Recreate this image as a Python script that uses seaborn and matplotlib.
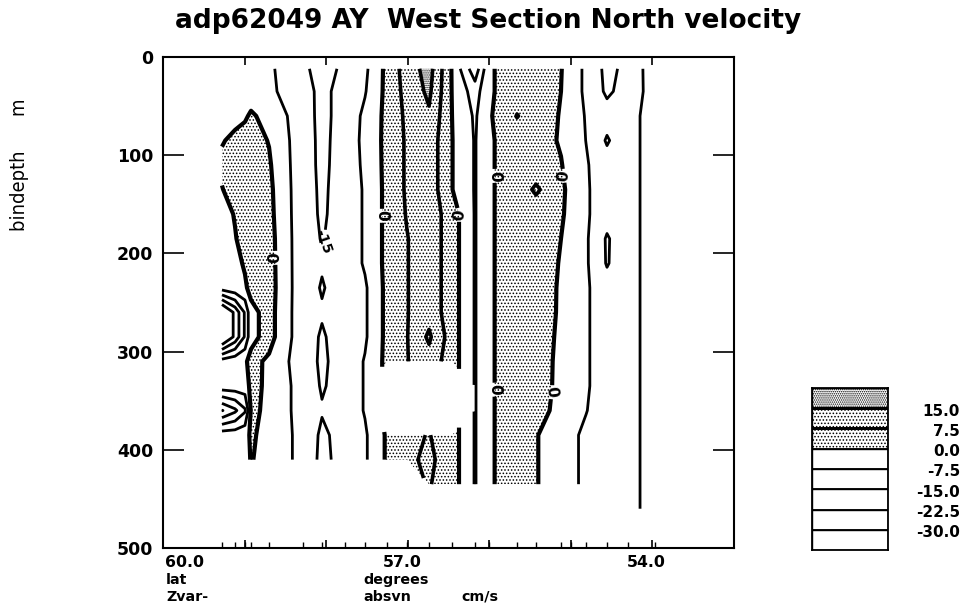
import numpy as np
import matplotlib
matplotlib.use("Agg")
import matplotlib.pyplot as plt
from matplotlib import font_manager
from matplotlib.font_manager import FontProperties
import seaborn as sns

nan = np.nan

# Along-section distance of each ADCP profile (km)
station_km = [72.3, 88.3, 100.5, 107.9, 130.0, 171.6, 194.9, 223.1, 247.6, 274.6,
              299.1, 326.1, 354.3, 382.5, 399.7, 434.0, 457.3, 487.9, 500.2, 518.6,
              544.3, 570.1, 603.2]

# Depth of each bin (m)
bin_depth = [12, 35, 60, 85, 110, 135, 160, 185, 210, 235, 260, 285, 310, 335,
             360, 385, 410, 435, 460]

# North velocity absvn (cm/s): one row per depth bin, one column per profile
absvn_rows = [
    [-4, -4, -4, -4, -6.5, -12.4, -20, -12.3, -9, 2, 11, 18, -0.5, -20, -1, 4, 4, 0.3, -3.5, -9, -17, -13, -3],
    [-4, -4, -3.5, -3, -6, -12.4, -16.8, -12.3, -8, 2, 10, 16.5, -0.3, -11, -1, 4, 4, 0, -3.5, -9, -16.3, -12, -4],
    [-3, -2, -0.8, 0.8, -2, -12.2, -16.8, -12.3, -6, 2, 9, 14, 0, -8.5, -1, 7.8, 4, -0.5, -3.5, -8, -12, -9.5, -5],
    [-0.5, 1.5, 2.5, 2.5, -0.3, -12.2, -16.5, -12.3, -5.5, 2, 8.5, 12, 0.2, -8, -1, 4, 4, -0.9, -3.5, -7.6, -15.8, -9.5, -5],
    [1.5, 3, 3.5, 3.5, 0.8, -12.4, -16.3, -12.3, -6, 2, 8.5, 12, 0.2, -8, -1, 4, 4, 0.5, -3.5, -6.8, -12, -9.5, -5],
    [-0.3, 3, 3.5, 3.5, 1.6, -12.4, -16, -12.3, -6.65, 1.95, 8.5, 12, 0.2, -8, -1, 4, 8.5, 2.5, -3.5, -6.5, -12, -9.5, -5],
    [-3, 0.5, 3, 3.5, 2.0, -12.4, -15.8, -12.3, -6.65, 1.95, 8.0, 12, 3.5, -8, -1, 4, 4, 1.5, -3.5, -6.5, -12, -9.5, -5],
    [-4, -0.5, 3, 3.5, 2.6, -12.4, -15.3, -12.3, -6.65, 1.95, 7.2, 12, 3.5, -8, -1, 4, 4, 0, -3.5, -6.5, -15.8, -9.5, -5],
    [-4, -2, 0.8, 3, 2.8, -12.4, -14.5, -12.3, -6.65, 1.95, 7.2, 12, 3.5, -8, -1, 4, 4, -0.5, -3.5, -6.5, -15.6, -9.5, -5],
    [-4, -2, -1, 2, 3.0, -12.4, -15.4, -12.3, -8.5, 1.95, 7.2, 12, 3.5, -8, -1, 4, 4, -0.9, -3.5, -6.5, -12, -9.5, -5],
    [-42, -28, -14, -2, 2.6, -12.4, -14.5, -12.3, -8.5, 1.95, 7.2, 12, 3.5, -8, -1, 4, 4, -1, -3.5, -6.5, -12, -9.5, -5],
    [-42, -28, -14, -2, 2.6, -12.4, -15.6, -12.3, -8.5, 1.95, 7.2, 16.3, 3.5, -8, -1, 4, 4, -1.5, -3.5, -6.5, -12, -9.5, -5],
    [-4, -2, -1, 2, -1.2, -12, -16, -12.3, -7, 1.95, 7.2, 12, 3.5, -8, -1, 4, 4, -2, -3.5, -6.5, -12, -9.5, -5],
    [-3, -3, -3, 1.5, -1, -11, -15.6, -12.3, -7, nan, nan, nan, nan, -8, -1, 4, 4, -2.2, -3.5, -6.5, -12, -9.5, -5],
    [-30.5, -24, -16, 1, -1, -11, -14.5, -12.3, -7, nan, nan, nan, nan, -8, -1, 4, 3, -2.5, -5, -7.2, -12, -9.5, -5],
    [-3, -3, -2, 0.8, -2, -10, -16.3, -12.3, -8.5, 1, 6, 7.8, 3.5, -8, -1, 4, 0.3, -3, -6, -9, -12, -9.5, -5],
    [-3, -3, -2, 0.3, -2, -10, -16.8, -12.3, -8.5, 1, 6, 9, 3.5, -8, -1, 4, 0.3, -3, -6, -9, -12, -9.5, -5],
    [nan] * 11 + [8, 3.5, -8, -1, 4, 0.3, -3, -6, -9, -12, -9.5, -5],
    [nan] * 21 + [-9.5, -5],
]

contour_levels = [-30.0, -22.5, -15.0, -7.5, 0.0, 7.5, 15.0]

# Contour labels: (distance km, depth m) near which each label sits
zero_label_at = [(139.8, 204.5), (274.6, 161.7), (361.7, 160.7), (405.8, 121.1),
                 (490.4, 121.1), (411.9, 338.8), (472.0, 340.8)]
minus15_label_at = [(201.0, 189.0)]

distance_ticks = [100, 200, 300, 400, 500, 600]
depth_ticks = [0, 100, 200, 300, 400, 500]
lat_labels = ["60.0", "57.0", "54.0"]
lat_label_km = [2, 269, 568]

title = "adp62049 AY  West Section North velocity"

# ---------------------------------------------------------------- style
sns.set_theme(style="white")
plt.rcParams["font.family"] = ["DejaVu Sans"]
plt.rcParams["text.color"] = "black"
plt.rcParams["axes.labelcolor"] = "black"
plt.rcParams["xtick.color"] = "black"
plt.rcParams["ytick.color"] = "black"
plt.rcParams["hatch.color"] = "black"
plt.rcParams["hatch.linewidth"] = 0.7
plt.rcParams["axes.edgecolor"] = "black"


def condensed_font(size):
    """A narrow sans face for the depth-axis caption, if one is installed."""
    for f in font_manager.fontManager.ttflist:
        name = f.name.lower()
        fname = f.fname.lower()
        if ("narrow" in name or "condensed" in fname or "narrow" in fname
                or f.stretch in ("condensed", "semi-condensed")) and \
                "bold" not in fname and "oblique" not in fname and "italic" not in fname:
            return FontProperties(fname=f.fname, size=size)
    return FontProperties(family="Liberation Sans", size=size)


W, H = 970, 612
fig = plt.figure(figsize=(W / 100, H / 100), dpi=100)
fig.patch.set_facecolor("white")


def fx(x):
    return x / W


def fy(y):
    return 1 - y / H


ax = fig.add_axes([fx(163), fy(548), fx(734) - fx(163), fy(57) - fy(548)])
ax.set_facecolor("white")

X = np.array(station_km)
Y = np.array(bin_depth)
Z = np.ma.masked_invalid(np.array(absvn_rows, dtype=float))

STIPPLE_LIGHT = "....."
STIPPLE_DENSE = "........"

cf = ax.contourf(X, Y, Z, levels=[0.0, 15.0, 1000.0], colors=["white", "white"],
                 hatches=[STIPPLE_LIGHT, STIPPLE_DENSE])
cf.set_edgecolor("black")
cf.set_linewidth(0)


def line_width(v):
    return 3.0 if v == 0 else (2.6 if v > 0 else 2.0)


plain_levels = [v for v in contour_levels if v not in (0.0, -15.0)]
ax.contour(X, Y, Z, levels=plain_levels, colors="black",
           linewidths=[line_width(v) for v in plain_levels], linestyles="solid")
cs_zero = ax.contour(X, Y, Z, levels=[0.0], colors="black",
                     linewidths=line_width(0.0), linestyles="solid")
cs_m15 = ax.contour(X, Y, Z, levels=[-15.0], colors="black",
                    linewidths=line_width(-15.0), linestyles="solid")

t0 = ax.clabel(cs_zero, manual=zero_label_at, fmt={0.0: "0"},
               inline=True, inline_spacing=3, fontsize=11)
for t in t0:
    t.set_fontweight("bold")
t15 = ax.clabel(cs_m15, manual=minus15_label_at, fmt={-15.0: "-15"},
                inline=True, inline_spacing=2, fontsize=10)
for t in t15:
    t.set_fontweight("bold")

ax.set_xlim(0, 700)
ax.set_ylim(500, 0)
ax.set_xticks(distance_ticks)
ax.set_xticks(station_km, minor=True)
ax.set_yticks(depth_ticks)
ax.set_yticklabels([str(d) for d in depth_ticks])
ax.tick_params(axis="x", which="major", direction="in", length=6, width=1.2,
               top=True, bottom=True, labelbottom=False, color="black")
ax.tick_params(axis="x", which="minor", direction="in", length=4, width=1.0,
               bottom=True, top=False, color="black")
ax.tick_params(axis="y", which="major", direction="in", length=15, width=1.2,
               left=True, right=True, labelsize=12.5, pad=7, color="black",
               labelcolor="black")
for lbl in ax.get_yticklabels():
    lbl.set_fontweight("bold")
for sp in ax.spines.values():
    sp.set_linewidth(1.5)
    sp.set_color("black")
ax.grid(False)

# latitude labels along the section
ROW_FS = 10.3
for lab, km in zip(lat_labels, lat_label_km):
    ax.text(km, fy(567), lab, transform=ax.get_xaxis_transform(), ha="left",
            va="baseline", fontsize=ROW_FS + 1, fontweight="bold", color="black")
for t in ax.texts[-3:]:
    t.set_transform(matplotlib.transforms.blended_transform_factory(
        ax.transData, fig.transFigure))

fig.text(fx(166), fy(584), "lat", ha="left", va="baseline", fontsize=ROW_FS,
         fontweight="bold")
fig.text(fx(363), fy(584), "degrees", ha="left", va="baseline", fontsize=ROW_FS,
         fontweight="bold")
fig.text(fx(166), fy(601), "Zvar-", ha="left", va="baseline", fontsize=ROW_FS,
         fontweight="bold")
fig.text(fx(363), fy(601), "absvn", ha="left", va="baseline", fontsize=ROW_FS,
         fontweight="bold")
fig.text(fx(461), fy(601), "cm/s", ha="left", va="baseline", fontsize=ROW_FS,
         fontweight="bold")

fig.text(fx(20), fy(165), "bindepth      m", rotation=90, ha="center",
         va="center", fontproperties=condensed_font(14.5), color="black")

fig.text(fx(488), fy(28), title, ha="center", va="baseline", fontsize=19,
         fontweight="bold", color="black")

# ---------------------------------------------------------------- key
lax = fig.add_axes([fx(812), fy(550), fx(888) - fx(812), fy(388) - fy(550)])
key_levels = sorted(contour_levels, reverse=True)
n_rows = len(key_levels) + 1
lower_bounds = key_levels + [None]
hatch_rows = []
for lb in lower_bounds:
    if lb is not None and lb >= 15:
        hatch_rows.append(STIPPLE_DENSE)
    elif lb is not None and lb >= 0:
        hatch_rows.append(STIPPLE_LIGHT)
    else:
        hatch_rows.append("")
lax.barh(np.arange(n_rows) + 0.5, width=1, height=1, left=0, color="white",
         edgecolor="black", linewidth=1.0, hatch=hatch_rows)
for i, v in enumerate(key_levels):
    lax.axhline(i + 1, color="black", lw=2.2 if v > 0 else 1.3)
    yb = 388 + (550 - 388) * (i + 1) / n_rows
    fig.text(fx(960), fy(yb + 3), f"{v:.1f}", ha="right", va="center",
             fontsize=11, fontweight="bold")
lax.set_xlim(0, 1)
lax.set_ylim(n_rows, 0)
lax.set_xticks([])
lax.set_yticks([])
for sp in lax.spines.values():
    sp.set_linewidth(1.3)
    sp.set_color("black")

fig.savefig("out.png", dpi=100, facecolor="white")
